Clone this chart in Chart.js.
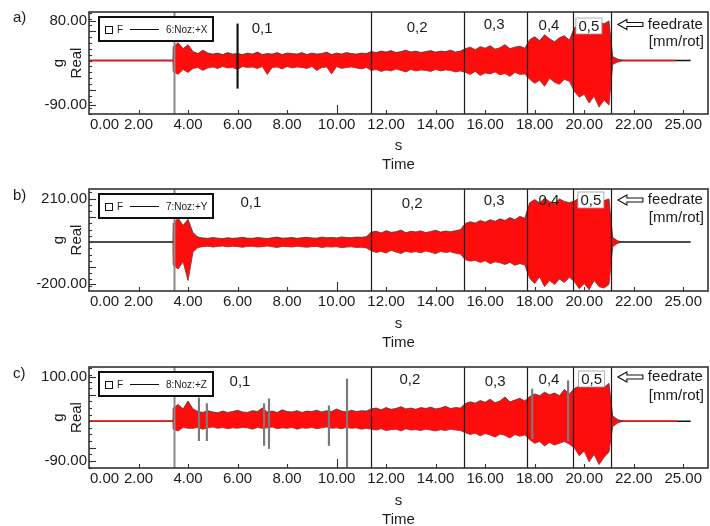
<!DOCTYPE html>
<html lang="en">
<head>
<meta charset="UTF-8">
<title>Acceleration signals vs. feedrate</title>
<script src="https://cdn.jsdelivr.net/npm/chart.js"></script>
<style>
  html, body { margin: 0; padding: 0; background: #fff; overflow: hidden; }
  body { width: 710px; height: 526px; position: relative; }
  canvas { position: absolute; left: 0; }
</style>
</head>
<body>
<canvas id="chart-a" width="710" height="178" style="top:0px"></canvas>
<canvas id="chart-b" width="710" height="178" style="top:178px"></canvas>
<canvas id="chart-c" width="710" height="178" style="top:356px"></canvas>

<script>
// envelopes are sampled every 0.2 s from 3.4 s to 21.0 s (89 samples)
const sampleStart = 3.4;
const sampleStep = 0.2;
const tailTimes = [21.15, 21.35, 21.55];
const traceEnd = 24.3;

const feedBounds = [3.43, 11.39, 15.15, 17.69, 19.55, 21.08];
const feedLabels = ['0,1', '0,2', '0,3', '0,4', '0,5'];

const xTickAt = [0.63, 2, 4, 6, 8, 10, 12, 14, 16, 18, 20, 22, 24];
const xTickLabels = ['0.00', '2.00', '4.00', '6.00', '8.00', '10.00', '12.00',
  '14.00', '16.00', '18.00', '20.00', '22.00', '25.00'];
const xMarks = [2, 4, 6, 8, 10, 12, 14, 16, 18, 20, 22, 24];

// a) 6:Noz:+X
const aYLabels = [-90, 80];
const aHi = [
  28, 36, 24, 32,
  18, 14, 21, 15, 13, 15, 12, 16, 13, 14, 12, 15, 13, 17, 12, 14, 13, 16,
  12, 15, 14, 13, 16, 12, 15, 13, 14, 17, 12, 15, 13, 16, 14, 13, 15, 14,
  18, 16, 19, 17, 20, 16, 18, 21, 17, 19, 16, 18, 20, 17, 19, 18, 21, 17, 19,
  24, 27, 22, 28, 25, 30, 23, 26, 32, 24, 27, 29, 25,
  42, 48, 40, 52, 44, 38, 46, 50, 41,
  66, 72, 68, 76, 70, 78, 74, 80
];
const aLo = [
  -22, -28, -18, -24,
  -16, -14, -20, -15, -13, -16, -12, -15, -14, -18, -12, -14, -13, -16, -12, -28,
  -14, -13, -17, -12, -15, -13, -14, -16, -12, -20, -14, -13, -27, -12, -16, -14,
  -13, -15, -17, -14,
  -20, -18, -22, -19, -21, -17, -20, -23, -18, -21, -19, -20, -22, -18, -21, -19, -20, -23, -21,
  -24, -28, -22, -30, -25, -27, -23, -29, -26, -32, -24, -28, -27,
  -38, -46, -40, -52, -36, -44, -48, -38, -42,
  -62, -74, -68, -86, -72, -94, -80, -90
];
const aTailHi = [8, 3, 0];
const aTailLo = [-8, -3, 0];
const aSpikeT = [6.0];
const aSpikeLo = [-56];
const aSpikeHi = [74];

// b) 7:Noz:+Y
const bYLabels = [-200, 210];
const bHi = [
  90, 115, 80, 110,
  45, 24, 20, 18, 22, 19, 17, 21, 18, 20, 23, 19, 18, 22, 20, 17, 21, 24,
  19, 20, 22, 18, 21, 23, 20, 19, 24, 21, 22, 20, 25, 22, 21, 24, 23, 26,
  48, 52, 44, 55, 47, 50, 58, 45, 52, 49, 54, 46, 51, 57, 48, 53, 50, 55, 60,
  90, 98, 92, 104, 96, 108, 100, 112, 104, 118, 108, 124, 115,
  190, 205, 188, 212, 195, 185, 208, 196, 190,
  198, 212, 196, 215, 204, 210, 200, 208
];
const bLo = [
  -110, -130, -95, -185,
  -48, -26, -22, -20, -24, -21, -19, -23, -20, -22, -25, -21, -20, -24, -22, -19,
  -23, -26, -21, -22, -24, -20, -23, -25, -22, -21, -26, -23, -24, -22, -27, -24,
  -23, -26, -25, -28,
  -42, -50, -45, -53, -40, -48, -55, -44, -50, -46, -52, -43, -49, -56, -45, -50, -47, -54, -58,
  -85, -92, -88, -98, -90, -104, -95, -100, -108, -98, -112, -104, -110,
  -175, -200, -168, -215, -185, -205, -178, -195, -170,
  -190, -225, -200, -230, -185, -215, -222, -205
];
const bTailHi = [22, 6, 0];
const bTailLo = [-22, -6, 0];

// c) 8:Noz:+Z
const cYLabels = [-90, 100];
const cHi = [
  30, 38, 28, 46,
  28, 22, 20, 24, 21, 19, 23, 20, 22, 25, 21, 20, 24, 22, 30, 21, 23, 20,
  26, 22, 21, 24, 20, 23, 22, 25, 21, 24, 22, 28, 23, 21, 25, 22, 24, 23,
  28, 30, 26, 31, 27, 29, 33, 28, 30, 27, 31, 29, 32, 28, 30, 34, 29, 31, 30,
  40, 44, 41, 47, 43, 50, 42, 46, 55, 44, 48, 52, 46,
  56, 62, 58, 66, 60, 64, 58, 72, 62,
  74, 80, 76, 84, 78, 82, 76, 86
];
const cLo = [
  -18, -22, -14, -16,
  -16, -14, -18, -15, -13, -16, -14, -17, -15, -16, -14, -15, -18, -14, -16, -15,
  -13, -17, -15, -16, -14, -18, -15, -16, -14, -17, -15, -13, -16, -15, -17, -14,
  -16, -15, -18, -16,
  -18, -20, -17, -21, -19, -18, -22, -17, -20, -19, -21, -18, -20, -22, -19, -21, -18, -20, -21,
  -26, -30, -27, -33, -28, -31, -36, -29, -32, -38, -30, -34, -31,
  -42, -50, -46, -56, -48, -54, -50, -46, -52,
  -60, -78, -68, -92, -75, -98, -82, -70
];
const cTailHi = [12, 4, 0];
const cTailLo = [-12, -4, 0];
const cSpikeT = [4.44, 4.76, 7.07, 7.27, 9.69, 10.42, 17.9, 19.35];
const cSpikeLo = [-44, -44, -55, -62, -55, -105, -40, -45];
const cSpikeHi = [53, 40, 40, 51, 35, 96, 73, 92];

const ink = '#1c1c1c';
const family = "'Liberation Sans', Arial, Helvetica, sans-serif";
const red = '#ff0d0d';

const panels = [
  {
    canvas: 'chart-a', letter: 'a)', legend: '6:Noz:+X',
    hi: aHi, lo: aLo, tailHi: aTailHi, tailLo: aTailLo,
    spikeT: aSpikeT, spikeLo: aSpikeLo, spikeHi: aSpikeHi, spikeColor: '#111',
    yMin: -108, yMax: 98, yLabels: aYLabels, yStep: 12, yMajor: [60, -60],
    redBase: 23.7, padTop: 12, xAxisH: 64, xPad: 2, titlePad: 3.5,
    labelX: [6.99, 13.25, 16.36, 18.58, 20.19], labelDy: [16, 15, 12, 13, 14],
    arrowDy: 12.5, rateDy: 12.5, unitDy: 30
  },
  {
    canvas: 'chart-b', letter: 'b)', legend: '7:Noz:+Y',
    hi: bHi, lo: bLo, tailHi: bTailHi, tailLo: bTailLo,
    spikeT: [], spikeLo: [], spikeHi: [], spikeColor: '#111',
    yMin: -236, yMax: 256, yLabels: bYLabels, yStep: 30, yMajor: [120, -120],
    redBase: null, padTop: 11, xAxisH: 65, xPad: 1.5, titlePad: 4,
    labelX: [6.54, 13.05, 16.36, 18.58, 20.27], labelDy: [13, 14, 11, 11, 11],
    arrowDy: 11, rateDy: 11, unitDy: 29
  },
  {
    canvas: 'chart-c', letter: 'c)', legend: '8:Noz:+Z',
    hi: cHi, lo: cLo, tailHi: cTailHi, tailLo: cTailLo,
    spikeT: cSpikeT, spikeLo: cSpikeLo, spikeHi: cSpikeHi, spikeColor: '#7a7a7a',
    yMin: -106, yMax: 123, yLabels: cYLabels, yStep: 15, yMajor: [60, -60],
    redBase: 23.75, padTop: 11, xAxisH: 66, xPad: 1.5, titlePad: 5,
    labelX: [6.1, 12.96, 16.4, 18.58, 20.3], labelDy: [14, 12, 14, 12, 12],
    arrowDy: 10, rateDy: 10, unitDy: 29
  }
];

function seg(ctx, x1, y1, x2, y2) {
  ctx.beginPath();
  ctx.moveTo(x1, y1);
  ctx.lineTo(x2, y2);
  ctx.stroke();
}

// frame, tick marks, feedrate boundaries, legend box and notes
function decorFor(p) {
  return {
    id: 'decor',
    afterDatasetsDraw(chart) {
      const { ctx, chartArea: ca } = chart;
      const x = chart.scales.x, y = chart.scales.y;
      ctx.save();

      feedBounds.forEach((t, i) => {
        const px = Math.round(x.getPixelForValue(t)) + 0.5;
        ctx.strokeStyle = i === 0 ? '#8a8a8a' : '#1a1a1a';
        ctx.lineWidth = i === 0 ? 2 : 1.2;
        seg(ctx, px, ca.top, px, ca.bottom);
      });

      ctx.strokeStyle = '#333';
      ctx.lineWidth = 1.6;
      ctx.strokeRect(ca.left, ca.top, ca.right - ca.left, ca.bottom - ca.top);

      ctx.lineWidth = 1.1;
      xMarks.forEach(v => {
        const px = Math.round(x.getPixelForValue(v)) + 0.5;
        seg(ctx, px, ca.bottom, px, ca.bottom - (v === 10 ? 9 : 4));
      });
      for (let v = Math.ceil(p.yMin / p.yStep) * p.yStep; v <= p.yMax; v += p.yStep) {
        const py = Math.round(y.getPixelForValue(v)) + 0.5;
        seg(ctx, ca.left, py, ca.left + 3, py);
      }
      p.yLabels.concat(p.yMajor).forEach(v => {
        const py = Math.round(y.getPixelForValue(v)) + 0.5;
        seg(ctx, ca.left, py, ca.left + 7, py);
      });

      // legend box
      const lx = ca.left + 10, ly = ca.top + 5;
      ctx.fillStyle = '#fff';
      ctx.fillRect(lx, ly, 114, 24);
      ctx.strokeStyle = '#111';
      ctx.lineWidth = 2;
      ctx.strokeRect(lx, ly, 114, 24);
      ctx.lineWidth = 1;
      ctx.strokeRect(lx + 6.5, ly + 9.5, 7, 7);
      seg(ctx, lx + 31, ly + 12.5, lx + 60, ly + 12.5);
      ctx.fillStyle = ink;
      ctx.textBaseline = 'middle';
      ctx.textAlign = 'left';
      ctx.font = '10px ' + family;
      ctx.fillText('F', lx + 18, ly + 13);
      ctx.fillText(p.legend, lx + 67, ly + 13);

      // feedrate values per section
      ctx.font = '15px ' + family;
      ctx.textAlign = 'center';
      feedLabels.forEach((s, i) => {
        const cx = x.getPixelForValue(p.labelX[i]);
        const cy = ca.top + p.labelDy[i];
        if (i === feedLabels.length - 1) {
          ctx.fillStyle = '#fff';
          ctx.fillRect(cx - 13, cy - 8, 26, 16);
          ctx.strokeStyle = '#999';
          ctx.lineWidth = 0.8;
          ctx.strokeRect(cx - 13, cy - 8, 26, 16);
        }
        ctx.fillStyle = ink;
        ctx.fillText(s, cx, cy + 1);
      });

      // hollow arrow pointing at the labels
      const ax = x.getPixelForValue(21.36), ay = ca.top + p.arrowDy;
      ctx.beginPath();
      ctx.moveTo(ax, ay);
      ctx.lineTo(ax + 9, ay - 5);
      ctx.lineTo(ax + 9, ay - 2);
      ctx.lineTo(ax + 25, ay - 2);
      ctx.lineTo(ax + 25, ay + 2);
      ctx.lineTo(ax + 9, ay + 2);
      ctx.lineTo(ax + 9, ay + 5);
      ctx.closePath();
      ctx.strokeStyle = '#111';
      ctx.lineWidth = 1.1;
      ctx.stroke();

      ctx.textAlign = 'left';
      ctx.fillStyle = ink;
      ctx.fillText('feedrate', ax + 30, ca.top + p.rateDy);
      ctx.fillText('[mm/rot]', ax + 31, ca.top + p.unitDy);

      ctx.fillText(p.letter, 13, 18);
      ctx.restore();
    }
  };
}

function buildPanel(p) {
  const times = p.hi.map((_, k) => +(sampleStart + k * sampleStep).toFixed(2));
  const hiPts = [{ x: 3.39, y: 0 }]
    .concat(p.hi.map((v, k) => ({ x: times[k], y: v })))
    .concat(tailTimes.map((t, i) => ({ x: t, y: p.tailHi[i] })));
  const loPts = [{ x: 3.39, y: 0 }]
    .concat(p.lo.map((v, k) => ({ x: times[k], y: v })))
    .concat(tailTimes.map((t, i) => ({ x: t, y: p.tailLo[i] })));

  const datasets = [
    { data: hiPts, borderColor: '#3a3a3a', borderWidth: 0.8, backgroundColor: red, fill: '+1', order: 1 },
    { data: loPts, borderColor: '#3a3a3a', borderWidth: 0.8, fill: false, order: 1 },
    { data: [{ x: 0, y: 0 }, { x: traceEnd, y: 0 }], borderColor: '#111', borderWidth: 1.4, fill: false, order: 4 }
  ];
  if (p.redBase) {
    datasets.push({ data: [{ x: 0, y: 0 }, { x: p.redBase, y: 0 }], borderColor: red, borderWidth: 1.6, fill: false, order: 3 });
  }
  if (p.spikeT.length) {
    datasets.push({
      type: 'bar',
      data: p.spikeT.map((t, i) => ({ x: t, y: [p.spikeLo[i], p.spikeHi[i]] })),
      backgroundColor: p.spikeColor, barThickness: 1.5, grouped: false, order: 0
    });
  }

  new Chart(document.getElementById(p.canvas), {
    type: 'line',
    data: { datasets },
    options: {
      responsive: false,
      animation: false,
      events: [],
      devicePixelRatio: 1,
      layout: { padding: { top: p.padTop, right: 2, bottom: 0, left: 0 } },
      elements: { point: { radius: 0 }, line: { tension: 0 } },
      plugins: { legend: { display: false }, tooltip: { enabled: false } },
      scales: {
        x: {
          type: 'linear', min: 0, max: 25, offset: false,
          grid: { display: false, drawTicks: false },
          border: { display: false },
          afterBuildTicks: s => { s.ticks = xTickAt.map(v => ({ value: v })); },
          ticks: {
            autoSkip: false, maxRotation: 0, minRotation: 0, padding: p.xPad,
            color: ink, font: { family, size: 15 },
            callback: (v, i) => xTickLabels[i]
          },
          title: {
            display: true, text: ['s', 'Time'], color: ink,
            font: { family, size: 15, lineHeight: 1.27 },
            padding: { top: 0, bottom: p.titlePad }
          },
          afterFit: s => { s.height = p.xAxisH; }
        },
        y: {
          type: 'linear', min: p.yMin, max: p.yMax,
          grid: { display: false, drawTicks: false },
          border: { display: false },
          afterBuildTicks: s => { s.ticks = p.yLabels.map(v => ({ value: v })); },
          ticks: { padding: 2, color: ink, font: { family, size: 15 }, callback: v => v.toFixed(2) },
          title: {
            display: true, text: ['g', 'Real'], color: ink,
            font: { family, size: 15, lineHeight: 1.25 },
            padding: { top: 49, bottom: 0 }
          },
          afterFit: s => { s.width = 89; }
        }
      }
    },
    plugins: [decorFor(p)]
  });
}

panels.forEach(buildPanel);
</script>
</body>
</html>
